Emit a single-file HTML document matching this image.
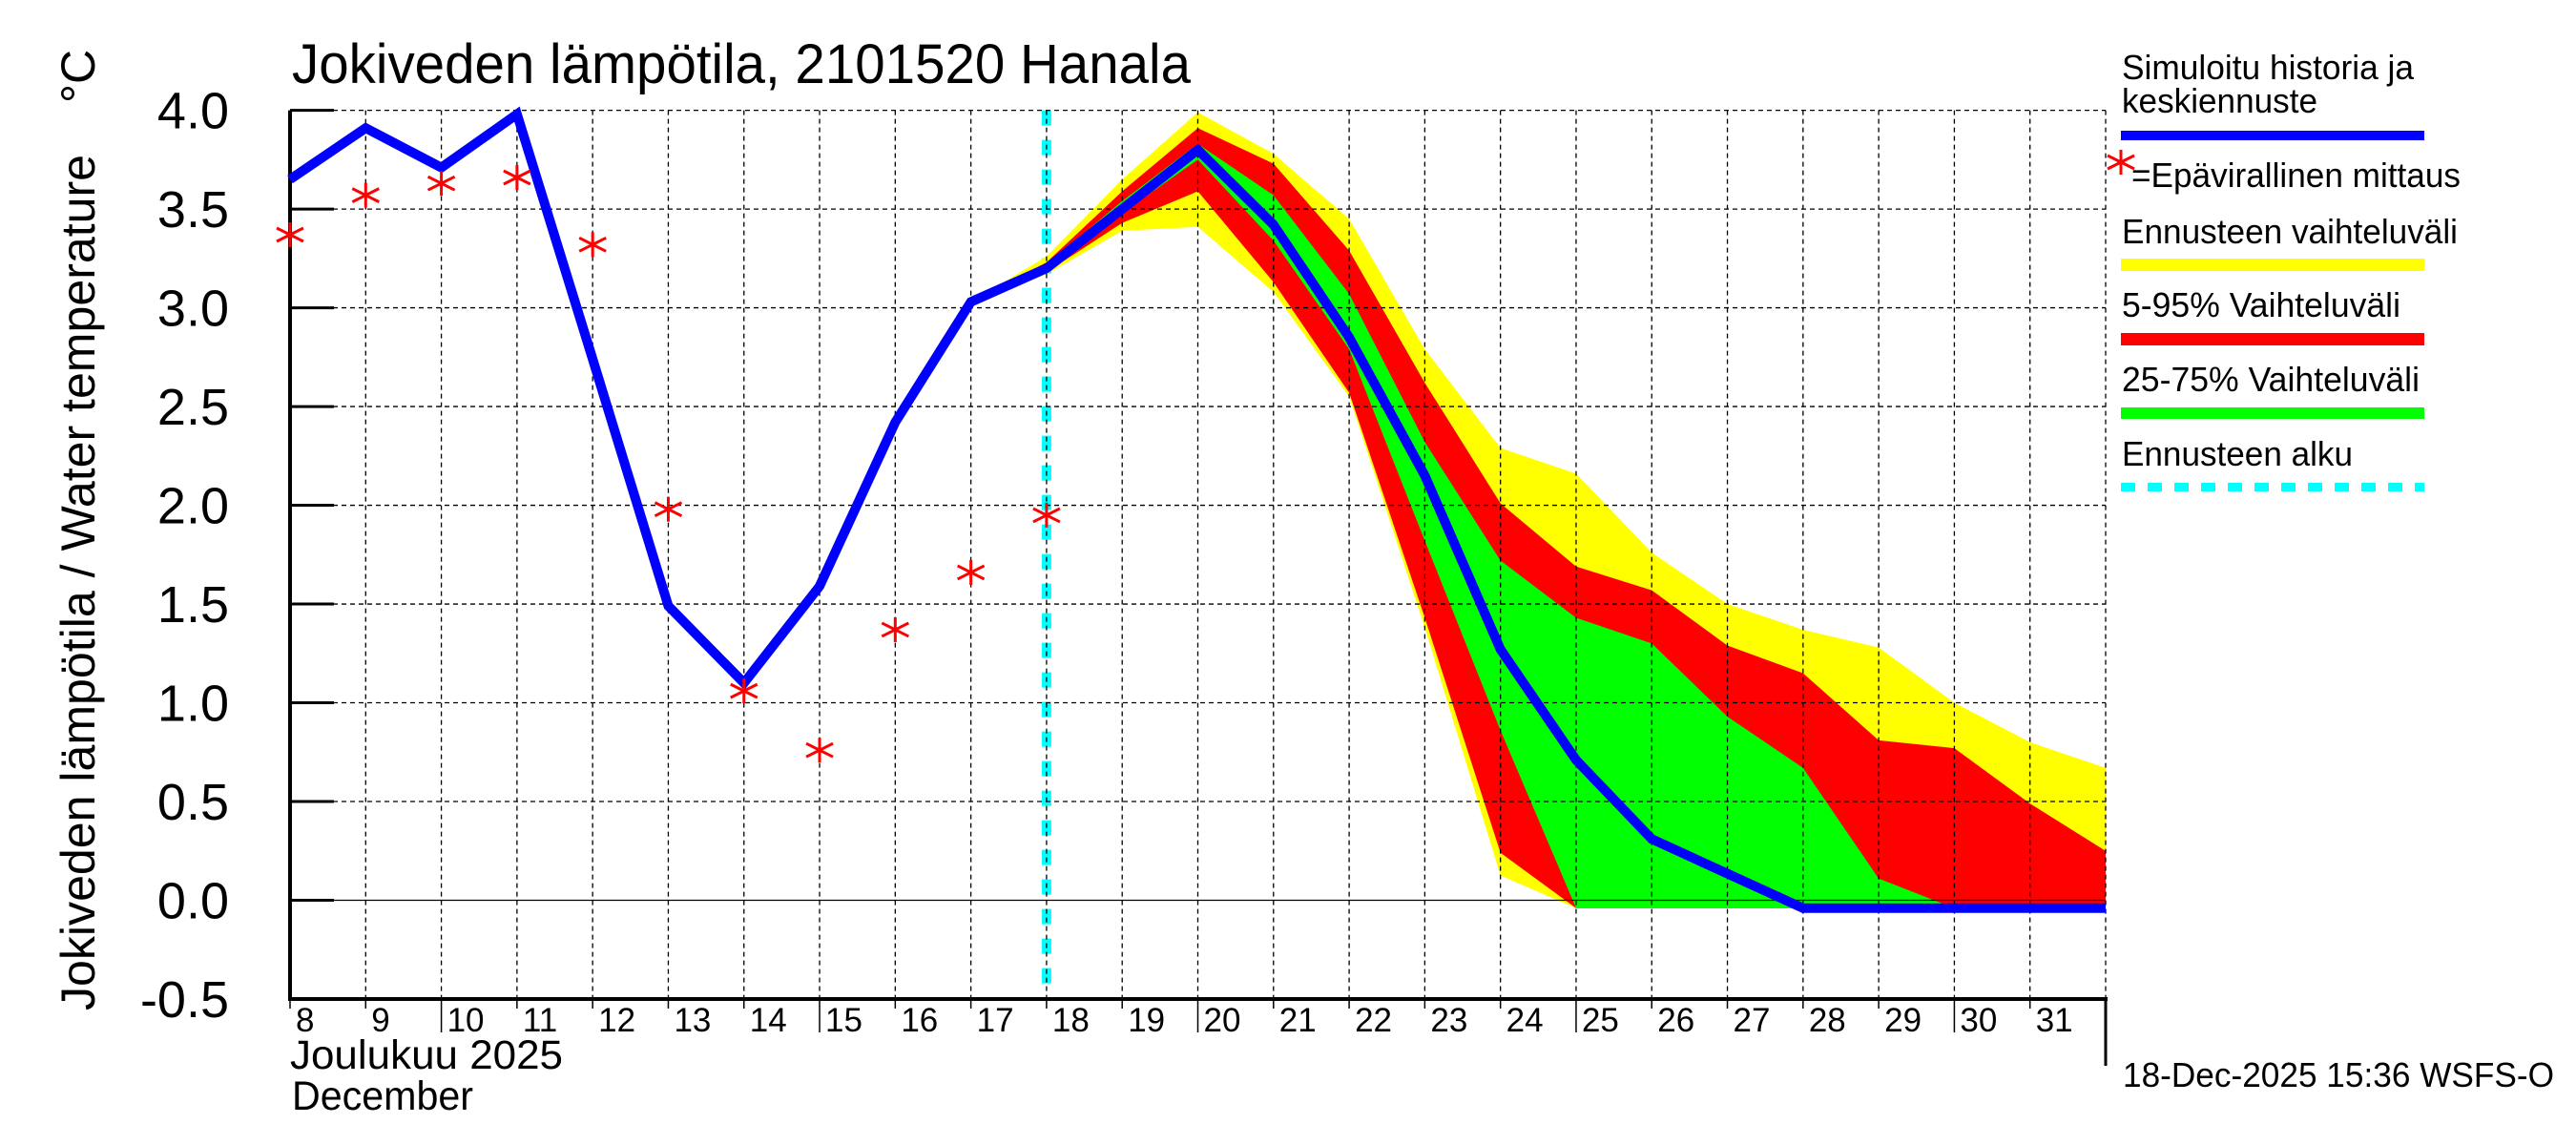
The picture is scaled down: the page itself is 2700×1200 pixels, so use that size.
<!DOCTYPE html>
<html><head><meta charset="utf-8"><style>
html,body{margin:0;padding:0;background:#fff;}
svg{display:block;font-family:"Liberation Sans",Arial,sans-serif;}
</style></head><body>
<svg id="chart" width="2700" height="1200" viewBox="0 0 2700 1200" xmlns="http://www.w3.org/2000/svg">
<g id="bands"></g>
<g id="grid"></g>
<g id="axes"></g>
<g id="series"></g>
<g id="legend"></g>
</svg>
<script>
const days = [8,9,10,11,12,13,14,15,16,17,18,19,20,21,22,23,24,25,26,27,28,29,30,31,32];
const simulated = [3.65,3.91,3.71,3.98,2.74,1.49,1.10,1.59,2.42,3.03,3.20,3.50,3.80,3.42,2.85,2.15,1.27,0.71,0.31,0.135,-0.04,-0.04,-0.04,-0.04,-0.04];
const measDays = [8,9,10,11,12,13,14,15,16,17,18];
const measured = [3.37,3.57,3.63,3.66,3.32,1.98,1.06,0.76,1.37,1.66,1.95];
const bandDays = [17,18,19,20,21,22,23,24,25,26,27,28,29,30,31,32];
const yellowHi = [3.03,3.26,3.65,3.99,3.78,3.45,2.79,2.29,2.16,1.76,1.50,1.37,1.28,1.00,0.80,0.67];
const yellowLo = [3.03,3.17,3.39,3.41,3.08,2.55,1.38,0.125,-0.04,-0.04,-0.04,-0.04,-0.04,-0.04,-0.04,-0.04];
const redHi = [3.03,3.23,3.59,3.91,3.73,3.29,2.62,2.01,1.69,1.57,1.29,1.15,0.81,0.77,0.49,0.25];
const redLo = [3.03,3.18,3.43,3.59,3.13,2.57,1.43,0.24,-0.04,-0.04,-0.04,-0.04,-0.04,-0.04,-0.04,-0.04];
const greenHi = [3.03,3.22,3.54,3.83,3.57,3.07,2.32,1.72,1.43,1.30,0.93,0.67,0.11,-0.04,-0.04,-0.04];
const greenLo = [3.03,3.19,3.48,3.75,3.34,2.79,1.82,0.86,-0.04,-0.04,-0.04,-0.04,-0.04,-0.04,-0.04,-0.04];
const yTicks = [-0.5,0,0.5,1,1.5,2,2.5,3,3.5,4];
const yTickLabels = ["-0.5","0.0","0.5","1.0","1.5","2.0","2.5","3.0","3.5","4.0"];
const xTickDays = [8,9,10,11,12,13,14,15,16,17,18,19,20,21,22,23,24,25,26,27,28,29,30,31];
const forecastStart = 18;

const L=304,R=2207,T=115.6,B=1047;
const xMin=8,xMax=32,yMin=-0.5,yMax=4;
const X=d=>L+(d-xMin)/(xMax-xMin)*(R-L);
const Y=v=>B-(v-yMin)/(yMax-yMin)*(B-T);
const NS="http://www.w3.org/2000/svg";
function mk(tag,attrs,parent){const e=document.createElementNS(NS,tag);for(const k in attrs)e.setAttribute(k,attrs[k]);parent.appendChild(e);return e;}
const gB=document.getElementById('bands'),gG=document.getElementById('grid'),gA=document.getElementById('axes'),gS=document.getElementById('series'),gL=document.getElementById('legend');

let cy=mk('line',{x1:X(forecastStart),x2:X(forecastStart),y1:T,y2:B,stroke:'#00ffff','stroke-width':10,'stroke-dasharray':'16 15'},gB);



function band(hi,lo,color,name){
  let pts=[];
  for(let i=0;i<bandDays.length;i++)pts.push(X(bandDays[i]).toFixed(1)+','+Y(hi[i]).toFixed(1));
  for(let i=bandDays.length-1;i>=0;i--)pts.push(X(bandDays[i]).toFixed(1)+','+Y(lo[i]).toFixed(1));
  const p=mk('polygon',{points:pts.join(' '),fill:color},gB);
  
  
}
band(yellowHi,yellowLo,'#ffff00','band-forecast-range');
band(redHi,redLo,'#ff0000','band-5-95');
band(greenHi,greenLo,'#00ff00','band-25-75');

for(const d of xTickDays.concat([32])){
  if(d===8)continue;
  const g=mk('line',{x1:X(d),x2:X(d),y1:T,y2:B,stroke:'#000','stroke-width':1.3,'stroke-dasharray':'5 4'},gG);
  
  
}
for(const v of yTicks){
  if(v===-0.5)continue;
  const g=mk('line',{x1:L,x2:R,y1:Y(v),y2:Y(v),stroke:'#000','stroke-width':1.3,'stroke-dasharray':v===0?'none':'5 4'},gG);
  
  
}

mk('line',{x1:L,x2:L,y1:T,y2:B+2,stroke:'#000','stroke-width':4},gA);
mk('line',{x1:L-2,x2:R+2,y1:B,y2:B,stroke:'#000','stroke-width':4},gA);
mk('line',{x1:R,x2:R,y1:B,y2:1117,stroke:'#000','stroke-width':3},gA);
yTicks.forEach((v,i)=>{
  const t=mk('line',{x1:L,x2:L+46,y1:Y(v),y2:Y(v),stroke:'#000','stroke-width':3},gA);
  
  
  const tx=mk('text',{x:240,y:Y(v)+19,'font-size':54,'text-anchor':'end',fill:'#000'},gA);
  tx.textContent=yTickLabels[i];
  
  
});
xTickDays.forEach(d=>{
  const long=(d%5===0);
  const t=mk('line',{x1:X(d),x2:X(d),y1:B,y2:B+(long?35:10),stroke:'#000','stroke-width':1.5},gA);
  
  
  const tx=mk('text',{x:X(d)+6,y:1081,'font-size':35,fill:'#000'},gA);
  tx.textContent=String(d);
  
  
});

let d='';
days.forEach((dd,i)=>{d+=(i?'L':'M')+X(dd).toFixed(1)+' '+Y(simulated[i]).toFixed(1);});
const sl=mk('path',{d:d,fill:'none',stroke:'#0000ff','stroke-width':10,'stroke-linejoin':'miter'},gS);



measDays.forEach((dd,i)=>{
  const cx=X(dd),cyv=Y(measured[i]);
  const g=mk('g',{stroke:'#ff0000','stroke-width':3},gS);
  
  
  mk('line',{x1:cx,x2:cx,y1:cyv-13,y2:cyv+13},g);
  mk('line',{x1:cx-14,x2:cx+14,y1:cyv-7,y2:cyv+7},g);
  mk('line',{x1:cx-14,x2:cx+14,y1:cyv+7,y2:cyv-7},g);
});
</script>
<script>
const svg=document.getElementById('chart');
function tx(x,y,size,str,name,extra){const e=document.createElementNS("http://www.w3.org/2000/svg",'text');e.setAttribute('x',x);e.setAttribute('y',y);e.setAttribute('font-size',size);e.setAttribute('fill','#000');if(extra)for(const k in extra)e.setAttribute(k,extra[k]);e.textContent=str;svg.appendChild(e);return e;}
let e;
e=tx(306,87,58,'Jokiveden lämpötila, 2101520 Hanala','',{textLength:942,lengthAdjust:'spacingAndGlyphs'});


e=tx(0,0,50,'Jokiveden lämpötila / Water temperature','',{transform:'translate(99,1059) rotate(-90)',textLength:897,lengthAdjust:'spacingAndGlyphs'});


e=tx(0,0,50,'°C','',{transform:'translate(99,108) rotate(-90)'});


e=tx(304,1120,43,'Joulukuu  2025','',{textLength:286,lengthAdjust:'spacingAndGlyphs'});


e=tx(306,1163,43,'December','',{textLength:190,lengthAdjust:'spacingAndGlyphs'});


e=tx(2225,1139,36,'18-Dec-2025 15:36 WSFS-O','',{textLength:452,lengthAdjust:'spacingAndGlyphs'});


function lt(y,str,len,name){const t=tx(2224,y,36,str,'',{textLength:len,lengthAdjust:'spacingAndGlyphs'});return t;}
lt(83,'Simuloitu historia ja',306,'legend-simulated-label-1');
lt(118,'keskiennuste',205,'legend-simulated-label-2');
e=tx(2234,196,36,'=Epävirallinen mittaus','',{textLength:345,lengthAdjust:'spacingAndGlyphs'});


lt(255,'Ennusteen vaihteluväli',352,'legend-range-label');
lt(332,'5-95% Vaihteluväli',292,'legend-5-95-label');
lt(410,'25-75% Vaihteluväli',312,'legend-25-75-label');
lt(488,'Ennusteen alku',242,'legend-start-label');
function bar(y,h,color,name,dash){const r=document.createElementNS("http://www.w3.org/2000/svg",'line');r.setAttribute('x1',2223);r.setAttribute('x2',2541);r.setAttribute('y1',y);r.setAttribute('y2',y);r.setAttribute('stroke',color);r.setAttribute('stroke-width',h);if(dash)r.setAttribute('stroke-dasharray',dash);svg.appendChild(r);}
bar(142,10,'#0000ff','legend-simulated-swatch');
bar(277.5,13,'#ffff00','legend-range-swatch');
bar(355.5,13,'#ff0000','legend-5-95-swatch');
bar(433,12,'#00ff00','legend-25-75-swatch');
bar(510.5,9,'#00ffff','legend-start-swatch','15 13');
const ag=document.createElementNS("http://www.w3.org/2000/svg",'g');
ag.setAttribute('stroke','#ff0000');ag.setAttribute('stroke-width',3);


[[2223,157,2223,183],[2209,163,2237,177],[2209,177,2237,163]].forEach(a=>{const l=document.createElementNS("http://www.w3.org/2000/svg",'line');l.setAttribute('x1',a[0]);l.setAttribute('y1',a[1]);l.setAttribute('x2',a[2]);l.setAttribute('y2',a[3]);ag.appendChild(l);});
svg.appendChild(ag);
</script>
</body></html>
